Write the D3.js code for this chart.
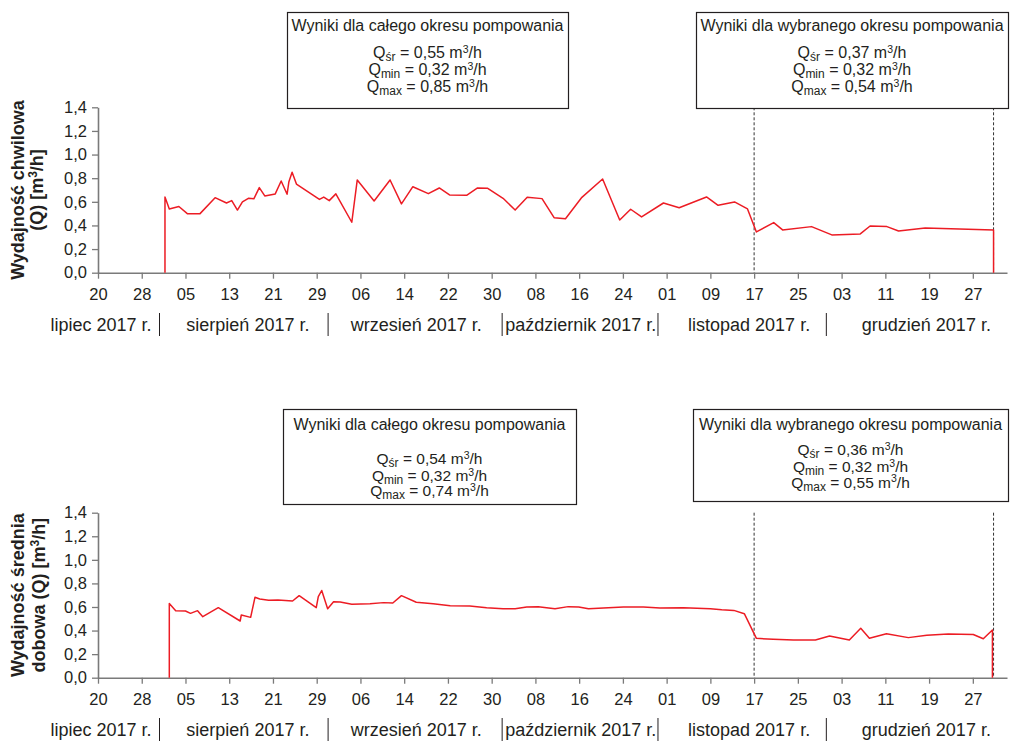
<!DOCTYPE html>
<html>
<head>
<meta charset="utf-8">
<script src="https://cdn.jsdelivr.net/npm/d3@7"></script>
<style>
  body { margin: 0; background: #fff; }
  text { font-family: "Liberation Sans", Arial, sans-serif; fill: #231f20; }
</style>
</head>
<body>
<svg id="chart" width="1010" height="741"></svg>
<script>
// ---- data ---------------------------------------------------------------
// instantaneous discharge (top panel)
const instDates = [
  "2017-08-01 06","2017-08-01 06","2017-08-02 01","2017-08-03 19","2017-08-05 08","2017-08-07 16",
  "2017-08-10 10","2017-08-12 12","2017-08-13 11","2017-08-14 12","2017-08-15 10","2017-08-16 12",
  "2017-08-17 12","2017-08-18 12","2017-08-19 12","2017-08-21 10","2017-08-22 12","2017-08-23 14",
  "2017-08-23 22","2017-08-24 12","2017-08-25 07","2017-08-29 12","2017-08-30 07","2017-08-31 07",
  "2017-09-01 12","2017-09-04 10","2017-09-05 10","2017-09-08 12","2017-09-11 10","2017-09-13 12",
  "2017-09-15 14","2017-09-18 10","2017-09-20 10","2017-09-22 07","2017-09-25 10","2017-09-27 10",
  "2017-09-29 05","2017-10-02 02","2017-10-04 07","2017-10-06 12","2017-10-09 05","2017-10-11 10",
  "2017-10-13 12","2017-10-16 12","2017-10-20 07","2017-10-23 10","2017-10-25 10","2017-10-27 10",
  "2017-10-31 10","2017-11-03 07","2017-11-08 07","2017-11-10 10","2017-11-13 10","2017-11-15 19",
  "2017-11-17 10","2017-11-20 14","2017-11-22 05","2017-11-27 12","2017-12-01 05","2017-12-06 10",
  "2017-12-08 05","2017-12-11 07","2017-12-13 10","2017-12-18 07","2017-12-30 19","2017-12-30 19"
];
const instValues = [
  0, 0.64, 0.54, 0.56, 0.50, 0.50,
  0.635, 0.59, 0.61, 0.53, 0.60, 0.63,
  0.625, 0.72, 0.65, 0.667, 0.776, 0.664,
  0.77, 0.85, 0.75, 0.62, 0.64, 0.61,
  0.667, 0.427, 0.785, 0.607, 0.785, 0.582,
  0.728, 0.669, 0.717, 0.658, 0.655, 0.717,
  0.715, 0.63, 0.53, 0.638, 0.627, 0.466,
  0.457, 0.638, 0.793, 0.446, 0.537, 0.472,
  0.59, 0.55, 0.641, 0.57, 0.599, 0.54,
  0.345, 0.424, 0.362, 0.39, 0.32, 0.328,
  0.395, 0.39, 0.353, 0.378, 0.362, 0
];

// daily mean discharge (bottom panel)
const dailyDates = [
  "2017-08-02 01","2017-08-02 01","2017-08-03 05","2017-08-05 00","2017-08-05 22","2017-08-07 05",
  "2017-08-08 04","2017-08-11 00","2017-08-15 00","2017-08-15 05","2017-08-16 22","2017-08-17 17",
  "2017-08-18 14","2017-08-20 05","2017-08-21 22","2017-08-24 14","2017-08-25 19","2017-08-28 22",
  "2017-08-29 07","2017-08-29 22","2017-08-31 00","2017-09-01 02","2017-09-02 07","2017-09-04 10",
  "2017-09-07 18","2017-09-10 05","2017-09-11 22","2017-09-13 12","2017-09-16 05","2017-09-19 07",
  "2017-09-22 10","2017-09-26 00","2017-09-29 02","2017-10-02 02","2017-10-04 07","2017-10-06 10",
  "2017-10-08 12","2017-10-11 14","2017-10-14 00","2017-10-15 22","2017-10-17 17","2017-10-24 02",
  "2017-10-27 18","2017-10-30 19","2017-11-04 02","2017-11-09 00","2017-11-11 02","2017-11-13 07",
  "2017-11-15 05","2017-11-17 10","2017-11-20 12","2017-11-24 05","2017-11-28 05","2017-11-30 19",
  "2017-12-04 10","2017-12-06 12","2017-12-08 02","2017-12-11 05","2017-12-15 05","2017-12-18 14",
  "2017-12-22 12","2017-12-27 02","2017-12-28 22","2017-12-30 14","2017-12-30 14"
];
const dailyValues = [
  0, 0.63, 0.569, 0.566, 0.546, 0.569,
  0.518, 0.594, 0.481, 0.532, 0.512, 0.682,
  0.668, 0.657, 0.66, 0.651, 0.696, 0.594,
  0.687, 0.74, 0.585, 0.645, 0.642, 0.623,
  0.628, 0.637, 0.634, 0.696, 0.64, 0.628,
  0.611, 0.608, 0.594, 0.585, 0.585, 0.60,
  0.603, 0.585, 0.603, 0.60, 0.585, 0.60,
  0.60, 0.591, 0.594, 0.585, 0.577, 0.571,
  0.543, 0.334, 0.326, 0.32, 0.32, 0.354,
  0.32, 0.419, 0.334, 0.373, 0.34, 0.36,
  0.371, 0.366, 0.331, 0.405, 0
];

// selected pumping period (dashed markers)
const selectionDates = ["2017-11-17 00", "2017-12-30 19"];

// axis extent and ticks
const axisStart = "2017-07-20 00";
const axisEnd = "2018-01-02 06";
const dayTickStep = 8;
const yTicks = [0, 0.2, 0.4, 0.6, 0.8, 1.0, 1.2, 1.4];

// month row
const monthLabels = ["lipiec 2017 r.", "sierpień 2017 r.", "wrzesień 2017 r.",
                     "październik 2017 r.", "listopad 2017 r.", "grudzień 2017 r."];
const monthCenters = ["2017-07-20 13", "2017-08-16 10", "2017-09-16 05",
                      "2017-10-16 07", "2017-11-16 02", "2017-12-18 12"];
const monthBreaks = ["2017-07-31 06", "2017-08-31 02", "2017-10-01 22",
                     "2017-10-30 10", "2017-11-30 05"];

// summary boxes
const boxTitles = ["Wyniki dla całego okresu pompowania", "Wyniki dla wybranego okresu pompowania"];
const statNames = ["śr", "min", "max"];
const instStatsAll = [0.55, 0.32, 0.85];
const instStatsSel = [0.37, 0.32, 0.54];
const dailyStatsAll = [0.54, 0.32, 0.74];
const dailyStatsSel = [0.36, 0.32, 0.55];

// ---- drawing --------------------------------------------------------------
const parse = d3.timeParse("%Y-%m-%d %H");
const svg = d3.select("#chart");
const fmtComma = v => d3.format(".1f")(v).replace(".", ",");
const fmtStat = v => d3.format(".2f")(v).replace(".", ",");

const x = d3.scaleTime().domain([parse(axisStart), parse(axisEnd)]).range([98, 1007]);
const dayTicks = d3.range(0, 161, dayTickStep).map(d => d3.timeDay.offset(parse(axisStart), d));

const panels = [
  {
    dates: instDates, values: instValues,
    yRange: [272.7, 107.3],
    tickLabelY: 300, monthY: 331, sepY: [313, 336],
    titleLines: ["Wydajność chwilowa", "(Q) [m³/h]"], titleX: [24, 43],
    boxes: [
      { x0: 287, x1: 568, y0: 12, y1: 108, titleY: 31, lineY: [58, 75, 92], fs: 16, stats: instStatsAll },
      { x0: 696, x1: 1008, y0: 12, y1: 108, titleY: 31, lineY: [58, 75, 92], fs: 16, stats: instStatsSel }
    ]
  },
  {
    dates: dailyDates, values: dailyValues,
    yRange: [677.7, 512.7],
    tickLabelY: 705, monthY: 736, sepY: [718, 741],
    titleLines: ["Wydajność średnia", "dobowa (Q) [m³/h]"], titleX: [24, 45],
    boxes: [
      { x0: 283, x1: 576, y0: 409, y1: 504, titleY: 430, lineY: [464, 481, 496], fs: 15.5, stats: dailyStatsAll },
      { x0: 693, x1: 1008, y0: 409, y1: 501, titleY: 430, lineY: [455, 472, 487.5], fs: 15.5, stats: dailyStatsSel }
    ]
  }
];

panels.forEach(p => {
  const y = d3.scaleLinear().domain([0, 1.4]).range(p.yRange);
  const g = svg.append("g");

  // dashed markers of the selected period
  g.selectAll("line.sel").data(selectionDates).join("line")
    .attr("class", "sel")
    .attr("x1", d => x(parse(d))).attr("x2", d => x(parse(d)))
    .attr("y1", y(1.4)).attr("y2", y(0))
    .attr("stroke", "#333").attr("stroke-width", 1)
    .attr("stroke-dasharray", "3,2");

  // x axis
  const xAxis = g.append("g")
    .attr("transform", `translate(0,${y(0)})`)
    .call(d3.axisBottom(x).tickValues(dayTicks).tickFormat(d3.timeFormat("%d"))
      .tickSize(6).tickSizeOuter(0));
  xAxis.select(".domain").attr("stroke", "#7a7a7a").attr("stroke-width", 1.6);
  xAxis.selectAll(".tick line").attr("stroke", "#7a7a7a").attr("stroke-width", 1.3);
  xAxis.selectAll(".tick text")
    .attr("y", null).attr("dy", null)
    .attr("transform", `translate(0,${p.tickLabelY - y(0)})`)
    .style("font-size", "16.5px").style("font-family", "'Liberation Sans', Arial, sans-serif")
    .attr("fill", "#231f20");

  // y axis
  const yAxis = g.append("g")
    .attr("transform", "translate(98,0)")
    .call(d3.axisLeft(y).tickValues(yTicks).tickFormat(fmtComma).tickSize(6).tickSizeOuter(0));
  yAxis.select(".domain").attr("stroke", "#7a7a7a").attr("stroke-width", 1.6);
  yAxis.selectAll(".tick line").attr("stroke", "#7a7a7a").attr("stroke-width", 1.3);
  yAxis.selectAll(".tick text")
    .attr("x", -11)
    .style("font-size", "16.5px").style("font-family", "'Liberation Sans', Arial, sans-serif")
    .attr("fill", "#231f20");

  // series
  const pts = p.dates.map((d, i) => [parse(d), p.values[i]]);
  g.append("path")
    .datum(pts)
    .attr("fill", "none")
    .attr("stroke", "#ec1c24")
    .attr("stroke-width", 1.5)
    .attr("stroke-linejoin", "round")
    .attr("d", d3.line().x(d => x(d[0])).y(d => y(d[1])));

  // month row
  g.selectAll("text.month").data(monthLabels).join("text")
    .attr("class", "month")
    .attr("x", (d, i) => x(parse(monthCenters[i])))
    .attr("y", p.monthY)
    .attr("text-anchor", "middle")
    .style("font-size", "18px")
    .text(d => d);
  g.selectAll("line.sep").data(monthBreaks).join("line")
    .attr("class", "sep")
    .attr("x1", d => x(parse(d))).attr("x2", d => x(parse(d)))
    .attr("y1", p.sepY[0]).attr("y2", p.sepY[1])
    .attr("stroke", "#231f20").attr("stroke-width", 1);

  // y title
  const midY = (p.yRange[0] + p.yRange[1]) / 2;
  p.titleLines.forEach((t, i) => {
    const tx = g.append("text")
      .attr("transform", `translate(${p.titleX[i]},${midY}) rotate(-90)`)
      .attr("text-anchor", "middle")
      .style("font-size", "18px").style("font-weight", "bold");
    if (t.includes("m³")) {
      const parts = t.split("m³");
      tx.append("tspan").text(parts[0] + "m");
      tx.append("tspan").attr("dy", -6).style("font-size", "12px").text("3");
      tx.append("tspan").attr("dy", 6).text(parts[1]);
    } else {
      tx.text(t);
    }
  });

  // summary boxes
  p.boxes.forEach((b, bi) => {
    const bg = g.append("g");
    bg.append("rect")
      .attr("x", b.x0 + 0.5).attr("y", b.y0 + 0.5)
      .attr("width", b.x1 - b.x0).attr("height", b.y1 - b.y0)
      .attr("fill", "#fff").attr("stroke", "#231f20").attr("stroke-width", 1.2);
    const cx = (b.x0 + b.x1) / 2;
    bg.append("text")
      .attr("x", cx).attr("y", b.titleY)
      .attr("text-anchor", "middle")
      .style("font-size", "16px")
      .text(boxTitles[bi]);
    statNames.forEach((s, si) => {
      const t = bg.append("text")
        .attr("x", cx).attr("y", b.lineY[si])
        .attr("text-anchor", "middle")
        .style("font-size", b.fs + "px");
      t.append("tspan").text("Q");
      t.append("tspan").attr("dy", 3).style("font-size", "12px").text(s);
      t.append("tspan").attr("dy", -3).text(` = ${fmtStat(b.stats[si])} m`);
      t.append("tspan").attr("dy", -5.5).style("font-size", "10.5px").text("3");
      t.append("tspan").attr("dy", 5.5).text("/h");
    });
  });
});
</script>
</body>
</html>
